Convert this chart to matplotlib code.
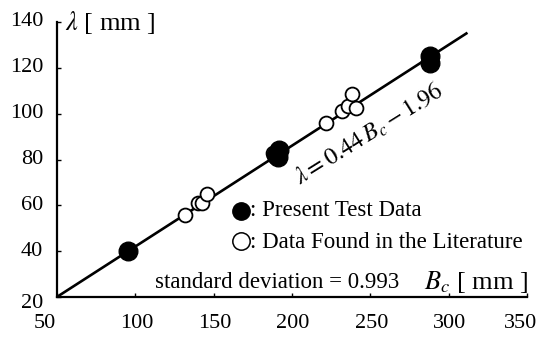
import matplotlib
matplotlib.use("Agg")
import matplotlib.pyplot as plt
import matplotlib.transforms as mtransforms
import numpy as np

plt.rcParams['font.family'] = ['Liberation Serif', 'DejaVu Serif']
plt.rcParams['mathtext.fontset'] = 'stix'

# Present test data (filled)
present_bc = [95, 190, 192, 191, 288, 288]
present_lam = [40, 82, 84, 81, 122, 125]
# Literature data (open)
lit_bc = [131.5, 140, 142.5, 145.5, 188, 222, 232, 235.5, 238, 241]
lit_lam = [56, 61, 61, 65, 83, 96, 101, 103.5, 108.5, 102.5]

slope, intercept = 0.44, -1.96
line_x = [50, 312]

xticks = [50, 100, 150, 200, 250, 300, 350]
yticks = [20, 40, 60, 80, 100, 120, 140]

fig = plt.figure(figsize=(5.39, 3.40), dpi=100)
ax = fig.add_axes([57/539, 1-297/340, (527-57)/539, (297-22)/340])

lx = np.array(line_x)
ax.plot(lx, slope*lx + intercept, color='black', lw=1.9, zorder=2, solid_capstyle='butt')
ax.scatter(lit_bc, lit_lam, s=100, facecolors='white', edgecolors='black', linewidths=1.3, zorder=3)
ax.scatter(present_bc, present_lam, s=180, color='black', zorder=4)

ax.set_xlim(50, 350)
ax.set_ylim(20, 140)
ax.set_xticks(xticks)
ax.set_yticks(yticks)
ax.tick_params(direction='in', length=3, width=1, labelbottom=False, labelleft=False)
for s in ['top', 'right']:
    ax.spines[s].set_visible(False)
for s in ['left', 'bottom']:
    ax.spines[s].set_linewidth(1.6)

# tick labels drawn manually to match offsets
def off(dx, dy):
    return mtransforms.ScaledTranslation(dx/100, dy/100, fig.dpi_scale_trans)

xtrans = ax.get_xaxis_transform()
for v in xticks:
    if v == xticks[0]:
        dx = -12
    elif v == xticks[-1]:
        dx = -6
    else:
        dx = 1
    ax.text(v, 0, str(v), transform=xtrans + off(dx, -26), fontsize=16,
            ha='center', va='center', clip_on=False)
ytrans = ax.get_yaxis_transform()
for v in yticks:
    dy = -6 if v == yticks[0] else 0
    ax.text(0, v, str(v), transform=ytrans + off(-14, dy), fontsize=16,
            ha='right', va='center', clip_on=False)

ax.text(65/539, 1-22/340, r'$\lambda$ [ mm ]', transform=fig.transFigure, fontsize=19,
        ha='left', va='center')
ax.text(528/539, 1-282/340, r'$B_c$ [ mm ]', transform=fig.transFigure, fontsize=19,
        ha='right', va='center')
ax.text(155/539, 1-282/340, 'standard deviation = 0.993', transform=fig.transFigure,
        fontsize=16.5, ha='left', va='center')

# legend-like annotations
fig.lines.append(plt.Line2D([241/539], [1-211/340], marker='o', markersize=12.5,
                            color='black', transform=fig.transFigure))
fig.lines.append(plt.Line2D([241/539], [1-241/340], marker='o', markersize=12.5,
                            markerfacecolor='white', markeredgecolor='black',
                            markeredgewidth=1.1, transform=fig.transFigure))
ax.text(250/539, 1-211/340, ': Present Test Data', transform=fig.transFigure,
        fontsize=16.5, ha='left', va='center')
ax.text(250/539, 1-242/340, ': Data Found in the Literature', transform=fig.transFigure,
        fontsize=16.5, ha='left', va='center')

ax.text(369/539, 1-134/340, r'$\lambda = 0.44\,B_c - 1.96$', transform=fig.transFigure,
        fontsize=17.5, ha='center', va='center', rotation=32)

fig.savefig('out.png', dpi=100)
